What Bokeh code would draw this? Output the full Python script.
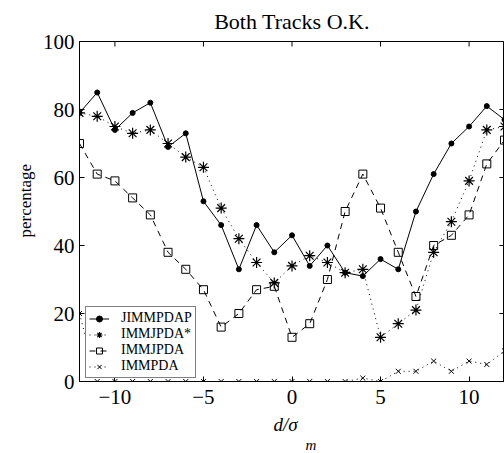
import math
from bokeh.plotting import figure
from bokeh.models import (FixedTicker, LinearAxis, Legend, LegendItem, Range1d, Title)
from bokeh.embed import file_html
from bokeh.resources import INLINE

# ---- data ----
x_vals = [-12, -11, -10, -9, -8, -7, -6, -5, -4, -3, -2, -1, 0, 1, 2, 3, 4, 5, 6, 7, 8, 9, 10, 11, 12]
jimmpdap = [79, 85, 74, 79, 82, 69, 73, 53, 46, 33, 46, 38, 43, 34, 40, 32, 31, 36, 33, 50, 61, 70, 75, 81, 77]
immjpda_star = [79, 78, 75, 73, 74, 70, 66, 63, 51, 42, 35, 29, 34, 37, 35, 32, 33, 13, 17, 21, 38, 47, 59, 74, 75]
immjpda = [70, 61, 59, 54, 49, 38, 33, 27, 16, 20, 27, 28, 13, 17, 30, 50, 61, 51, 38, 25, 40, 43, 49, 64, 71]
immpda = [20, 0, 0, 0, 0, 0, 0, 0, 0, 0, 0, 0, 0, 0, 0, 0, 1, 0, 3, 3, 6, 3, 6, 5, 9]
series_names = ["JIMMPDAP", "IMMJPDA*", "IMMJPDA", "IMMPDA"]
x_ticks = [-10, -5, 0, 5, 10]
x_tick_labels = ["\u221210", "\u22125", "0", "5", "10"]
y_ticks = [0, 20, 40, 60, 80, 100]
title_text = "Both Tracks O.K."
ylabel_text = "percentage"
xlabel_main = "d/\u03c3"
xlabel_sub = "m"

FONT = "Liberation Serif"
X0, X1, Y0, Y1 = -12, 12, 0, 100

p = figure(width=504, height=453, output_backend="svg", toolbar_location=None,
           x_range=Range1d(X0, X1), y_range=Range1d(Y0, Y1),
           min_border_left=79, min_border_right=0, min_border_top=41, min_border_bottom=72,
           x_axis_location=None, y_axis_location=None)
p.grid.visible = False
p.outline_line_color = "black"
p.outline_line_width = 1
p.background_fill_color = "white"
p.border_fill_color = "white"

def style_axis(ax):
    ax.axis_line_color = "black"
    ax.axis_line_width = 1
    ax.major_tick_in = 5
    ax.major_tick_out = 0
    ax.minor_tick_in = 0
    ax.minor_tick_out = 0
    ax.major_tick_line_color = "black"
    ax.major_label_text_font = FONT
    ax.major_label_text_color = "black"
    ax.major_label_text_font_size = "21px"

xb = LinearAxis(ticker=FixedTicker(ticks=x_ticks))
xb.major_label_overrides = {t: s for t, s in zip(x_ticks, x_tick_labels)}
style_axis(xb)
xb.major_label_standoff = 8
p.add_layout(xb, "below")

yl = LinearAxis(ticker=FixedTicker(ticks=y_ticks))
style_axis(yl)
yl.major_label_standoff = 5
p.add_layout(yl, "left")

# inward ticks on the top and right edges of the box
p.ray(x=x_ticks, y=[Y1] * len(x_ticks), length=5, length_units="screen",
      angle=-math.pi / 2, line_color="black", line_width=1)
p.ray(x=[X1] * len(y_ticks), y=y_ticks, length=5, length_units="screen",
      angle=math.pi, line_color="black", line_width=1)

# ---- series ----
r1l = p.line(x_vals, jimmpdap, line_color="black", line_width=1)
r1m = p.scatter(x_vals, jimmpdap, marker="circle", size=5, fill_color="black", line_color="black")

r2l = p.line(x_vals, immjpda_star, line_color="black", line_width=1, line_dash="1 4")
r2m = p.scatter(x_vals, immjpda_star, marker="asterisk", size=11, line_color="black", line_width=1.2)

r3l = p.line(x_vals, immjpda, line_color="black", line_width=1, line_dash="6 5")
r3m = p.scatter(x_vals, immjpda, marker="square", size=8, fill_color=None, line_color="black", line_width=1)

r4l = p.line(x_vals, immpda, line_color="black", line_width=1, line_dash="1 4")
r4m = p.scatter(x_vals, immpda, marker="x", size=7, line_color="black", line_width=1)

legend = Legend(items=[
    LegendItem(label=series_names[0], renderers=[r1l, r1m]),
    LegendItem(label=series_names[1], renderers=[r2l, r2m]),
    LegendItem(label=series_names[2], renderers=[r3l, r3m]),
    LegendItem(label=series_names[3], renderers=[r4l, r4m]),
], location=(6, 3))
legend.label_text_font = FONT
legend.label_text_font_size = "14px"
legend.label_text_color = "black"
legend.label_height = 15
legend.glyph_height = 15
legend.glyph_width = 20
legend.label_standoff = 12
legend.spacing = -3
legend.padding = 3
legend.margin = 0
legend.border_line_color = "black"
legend.border_line_width = 1
legend.background_fill_color = "white"
legend.background_fill_alpha = 1
p.add_layout(legend, "center")

# ---- texts ----
p.title = Title(text=title_text, text_font=FONT, text_font_size="22px", text_font_style="normal",
                text_color="black", align="center", vertical_align="top", standoff=12,
                text_line_height=0.6)
p.add_layout(Title(text=ylabel_text, text_font=FONT, text_font_size="17px", text_font_style="normal",
                   text_color="black", align="left", offset=144, standoff=10), "left")
p.add_layout(Title(text=xlabel_main, text_font=FONT, text_font_size="19px", text_font_style="italic",
                   text_color="black", align="left", offset=194, standoff=10), "below")
p.add_layout(Title(text=xlabel_sub, text_font=FONT, text_font_size="15px", text_font_style="italic",
                   text_color="black", align="left", offset=226, standoff=-9), "below")

open("out.html", "w").write(file_html(p, INLINE))
